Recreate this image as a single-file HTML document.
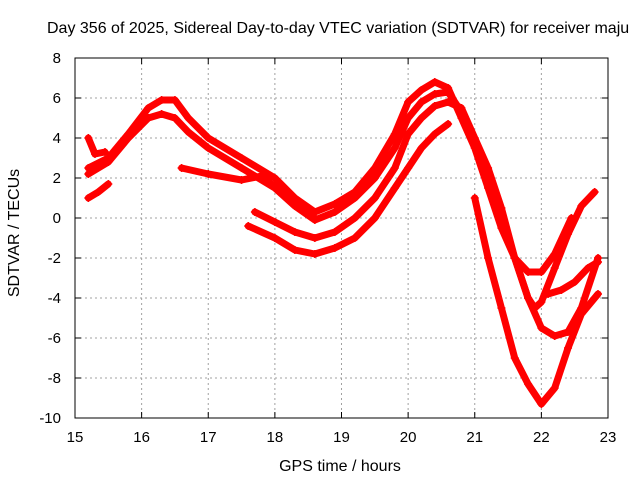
<!DOCTYPE html>
<html><head><meta charset="utf-8"><style>
body{margin:0;background:#fff}
svg text{font-family:"Liberation Sans",sans-serif;font-size:15px;fill:#000}
</style></head><body>
<svg id="chart" width="640" height="480" viewBox="0 0 640 480" xmlns="http://www.w3.org/2000/svg">
<text x="47" y="33" style="font-size:16px">Day 356 of 2025, Sidereal Day-to-day VTEC variation (SDTVAR) for receiver maju</text>
<g id="grid"></g>
<g id="series"></g>
<rect x="75" y="58" width="533" height="360" fill="none" stroke="#000" stroke-width="1"/>
<g id="ticks"></g>
<text x="340" y="471" text-anchor="middle" style="font-size:16px">GPS time / hours</text>
<text transform="translate(19,233) rotate(-90)" text-anchor="middle" style="font-size:16px">SDTVAR / TECUs</text>
</svg>
<script>
const xTicks=[15,16,17,18,19,20,21,22,23];
const yTicks=[-10,-8,-6,-4,-2,0,2,4,6,8];
const s1T=[15.2,15.5,15.8,16.1,16.3,16.5,16.7,17.0,17.5,18.0,18.3,18.6,18.9,19.2,19.5,19.8,20.0,20.2,20.4,20.6,20.8,21.0,21.2,21.4,21.6,21.8,22.0,22.2,22.45];
const s1V=[2.5,3.0,4.2,5.5,5.9,5.9,5.0,4.0,3.0,2.0,1.0,0.3,0.7,1.3,2.5,4.2,5.8,6.4,6.8,6.5,5.0,3.5,1.5,-0.5,-2.0,-2.7,-2.7,-1.8,0.0];
const s2T=[15.2,15.5,15.8,16.1,16.3,16.5,16.7,17.0,17.5,18.0,18.3,18.6,18.9,19.2,19.5,19.8,20.0,20.2,20.4,20.6,20.8,21.0,21.2,21.4,21.6,21.8,21.9,22.0,22.2,22.4,22.6,22.8];
const s2V=[2.2,2.8,4.0,5.0,5.2,5.0,4.3,3.5,2.5,1.5,0.6,-0.1,0.3,1.0,2.0,3.5,5.0,5.8,6.2,6.3,5.3,3.8,2.0,0.0,-2.0,-4.0,-4.5,-4.2,-2.5,-0.8,0.6,1.3];
const s3T=[17.7,18.0,18.3,18.6,18.9,19.2,19.5,19.8,20.0,20.2,20.4,20.6,20.8,21.0,21.2,21.4,21.6,21.8,22.0,22.2,22.4,22.6,22.85];
const s3V=[0.3,-0.2,-0.7,-1.0,-0.7,0.0,1.0,2.5,4.2,5.0,5.6,5.8,5.5,4.0,2.5,0.5,-2.0,-4.0,-5.5,-5.9,-5.7,-4.5,-2.0];
const s4T=[17.6,18.0,18.3,18.6,18.9,19.2,19.5,19.8,20.0,20.2,20.4,20.6];
const s4V=[-0.4,-1.0,-1.6,-1.8,-1.5,-1.0,0.0,1.5,2.5,3.5,4.2,4.7];
const s5T=[21.0,21.2,21.4,21.6,21.8,22.0,22.2,22.4,22.6,22.85];
const s5V=[1.0,-2.0,-4.5,-7.0,-8.3,-9.3,-8.5,-6.5,-4.8,-3.8];
const s6T=[16.6,17.0,17.5,17.8,18.2,18.6];
const s6V=[2.5,2.2,1.9,2.1,1.0,0.0];
const s7T=[22.1,22.3,22.5,22.7,22.85];
const s7V=[-3.8,-3.6,-3.2,-2.5,-2.2];
const s8T=[15.2,15.35,15.5];
const s8V=[1.0,1.3,1.7];
const s9T=[15.2,15.3,15.45];
const s9V=[4.0,3.2,3.3];
const allT=[s1T,s2T,s3T,s4T,s5T,s6T,s7T,s8T,s9T];
const allV=[s1V,s2V,s3V,s4V,s5V,s6V,s7V,s8V,s9V];
const NS='http://www.w3.org/2000/svg';
const X=t=>75+(t-15)*533/8;
const Y=v=>58+(8-v)*20;
const grid=document.getElementById('grid'),ticks=document.getElementById('ticks'),ser=document.getElementById('series');
function mk(tag,parent,attrs){const e=document.createElementNS(NS,tag);for(const k in attrs)e.setAttribute(k,attrs[k]);parent.appendChild(e);return e;}
xTicks.forEach(t=>{
  if(t>15&&t<23){const g=mk('line',grid,{x1:X(t),x2:X(t),y1:58,y2:418,stroke:'#a0a0a0','stroke-dasharray':'2,3'});
  
  }
  const a=mk('line',ticks,{x1:X(t),x2:X(t),y1:418,y2:412,stroke:'#000'});
  
  
  const b=mk('line',ticks,{x1:X(t),x2:X(t),y1:58,y2:64,stroke:'#000'});
  
  
  const l=mk('text',ticks,{x:X(t),y:442,'text-anchor':'middle'});l.textContent=t;
  
  
});
yTicks.forEach(v=>{
  if(v>-10&&v<8){const g=mk('line',grid,{x1:75,x2:608,y1:Y(v),y2:Y(v),stroke:'#a0a0a0','stroke-dasharray':'2,3'});
  
  }
  const a=mk('line',ticks,{x1:75,x2:81,y1:Y(v),y2:Y(v),stroke:'#000'});
  
  
  const b=mk('line',ticks,{x1:608,x2:602,y1:Y(v),y2:Y(v),stroke:'#000'});
  
  
  const l=mk('text',ticks,{x:61,y:Y(v)+5,'text-anchor':'end'});l.textContent=v;
  
  
});
allT.forEach((ts,i)=>{
  const vs=allV[i];
  const pts=ts.map((t,j)=>X(t)+','+Y(vs[j])).join(' ');
  const p=mk('polyline',ser,{points:pts,fill:'none',stroke:'#ff0000','stroke-width':7,'stroke-linejoin':'round','stroke-linecap':'round'});
  
  
  ts.forEach((t,j)=>{
    const x=X(t),y=Y(vs[j]);
    const m=mk('path',ser,{d:`M${x-4},${y}H${x+4}M${x},${y-4}V${y+4}`,stroke:'#ff0000','stroke-width':1.5});
    
    
  });
});
</script>
</body></html>
